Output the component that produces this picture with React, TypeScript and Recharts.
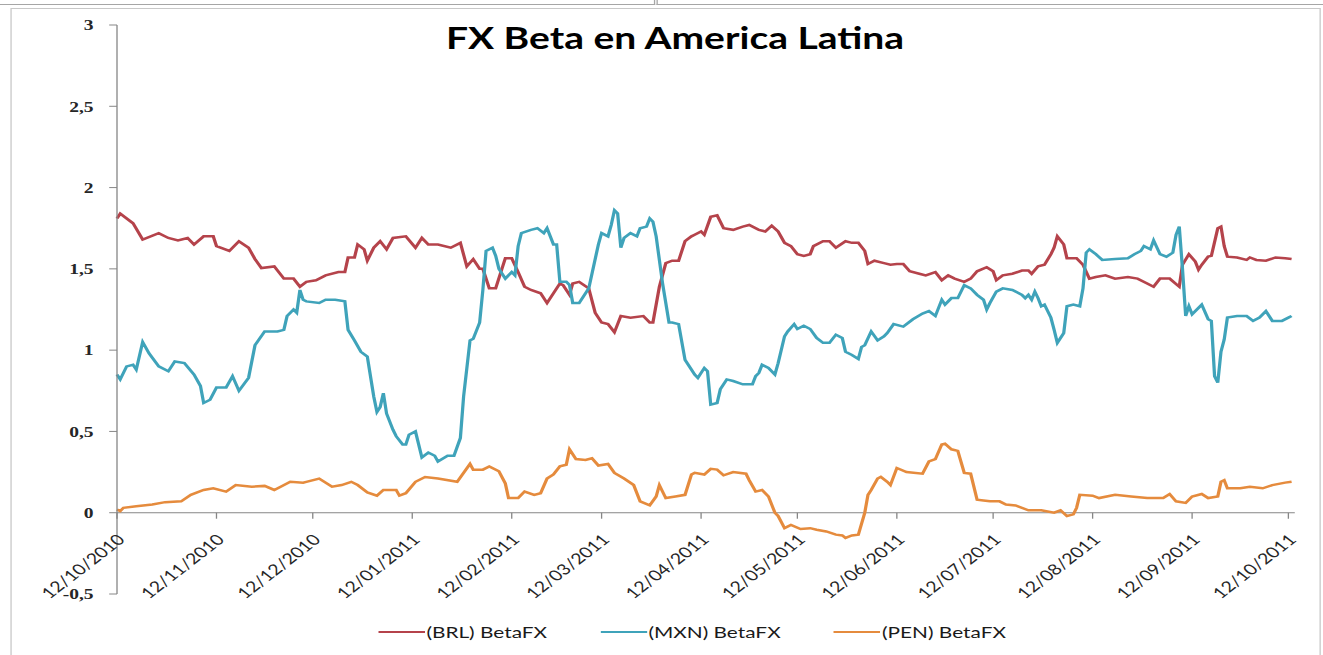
import React from 'react';
import { LineChart, Line, XAxis, YAxis, ReferenceLine, Legend } from 'recharts';

// the source image is an Excel chart stretched sideways, so it is laid out
// narrower and then scaled on x
const STRETCH = 1.3;
const W = 1018;
const H = 655;
const PLOT_TOP = 25;
const PLOT_BOTTOM = 594;

const brlDates = [
  '12/10/2010', '13/10/2010', '17/10/2010', '20/10/2010', '25/10/2010', '28/10/2010', '31/10/2010',
  '03/11/2010', '05/11/2010', '08/11/2010', '11/11/2010', '12/11/2010', '16/11/2010', '19/11/2010',
  '22/11/2010', '24/11/2010', '26/11/2010', '30/11/2010', '03/12/2010', '06/12/2010', '08/12/2010',
  '10/12/2010', '13/12/2010', '16/12/2010', '20/12/2010', '22/12/2010', '23/12/2010', '25/12/2010',
  '26/12/2010', '28/12/2010', '29/12/2010', '31/12/2010', '02/01/2011', '04/01/2011', '06/01/2011',
  '10/01/2011', '13/01/2011', '15/01/2011', '17/01/2011', '20/01/2011', '24/01/2011', '27/01/2011',
  '29/01/2011', '31/01/2011', '02/02/2011', '03/02/2011', '05/02/2011', '07/02/2011', '10/02/2011',
  '12/02/2011', '14/02/2011', '16/02/2011', '18/02/2011', '21/02/2011', '23/02/2011', '25/02/2011',
  '27/02/2011', '28/02/2011', '02/03/2011', '03/03/2011', '05/03/2011', '08/03/2011', '10/03/2011',
  '12/03/2011', '14/03/2011', '16/03/2011', '18/03/2011', '21/03/2011', '25/03/2011', '27/03/2011',
  '28/03/2011', '30/03/2011', '01/04/2011', '03/04/2011', '05/04/2011', '07/04/2011', '09/04/2011',
  '10/04/2011', '12/04/2011', '13/04/2011', '15/04/2011', '17/04/2011', '19/04/2011', '22/04/2011',
  '25/04/2011', '27/04/2011', '30/04/2011', '02/05/2011', '04/05/2011', '06/05/2011', '08/05/2011',
  '10/05/2011', '12/05/2011', '14/05/2011', '16/05/2011', '17/05/2011', '20/05/2011', '22/05/2011',
  '24/05/2011', '27/05/2011', '29/05/2011', '31/05/2011', '02/06/2011', '03/06/2011', '05/06/2011',
  '08/06/2011', '10/06/2011', '12/06/2011', '14/06/2011', '16/06/2011', '19/06/2011', '21/06/2011',
  '24/06/2011', '26/06/2011', '28/06/2011', '30/06/2011', '03/07/2011', '05/07/2011', '07/07/2011',
  '10/07/2011', '12/07/2011', '13/07/2011', '15/07/2011', '18/07/2011', '21/07/2011', '23/07/2011',
  '24/07/2011', '26/07/2011', '28/07/2011', '30/07/2011', '31/07/2011', '01/08/2011', '03/08/2011',
  '04/08/2011', '07/08/2011', '09/08/2011', '11/08/2011', '13/08/2011', '16/08/2011', '19/08/2011',
  '23/08/2011', '26/08/2011', '29/08/2011', '31/08/2011', '02/09/2011', '05/09/2011', '08/09/2011',
  '09/09/2011', '11/09/2011', '13/09/2011', '14/09/2011', '15/09/2011', '17/09/2011', '18/09/2011',
  '20/09/2011', '21/09/2011', '22/09/2011', '23/09/2011', '26/09/2011', '29/09/2011', '30/09/2011',
  '02/10/2011', '05/10/2011', '08/10/2011', '11/10/2011', '13/10/2011',
];
const brlValues = [
  1.81, 1.84, 1.78, 1.68, 1.72, 1.69, 1.675,
  1.69, 1.65, 1.7, 1.7, 1.64, 1.61, 1.67,
  1.63, 1.56, 1.505, 1.515, 1.44, 1.44, 1.39,
  1.42, 1.43, 1.46, 1.48, 1.48, 1.57, 1.57,
  1.65, 1.62, 1.55, 1.63, 1.67, 1.62, 1.69,
  1.7, 1.63, 1.69, 1.65, 1.65, 1.63, 1.66,
  1.515, 1.56, 1.5, 1.5, 1.38, 1.38, 1.565,
  1.565, 1.48, 1.39, 1.37, 1.35, 1.29, 1.35,
  1.41, 1.4, 1.34, 1.41, 1.42, 1.38, 1.23,
  1.17, 1.16, 1.11, 1.21, 1.2, 1.21, 1.17,
  1.17, 1.39, 1.535, 1.55, 1.55, 1.67, 1.7,
  1.71, 1.73, 1.71, 1.82, 1.83, 1.75, 1.74,
  1.76, 1.77, 1.74, 1.73, 1.765, 1.73, 1.66,
  1.64, 1.59, 1.58, 1.59, 1.64, 1.67, 1.67,
  1.63, 1.67, 1.66, 1.66, 1.61, 1.53, 1.55,
  1.535, 1.525, 1.53, 1.53, 1.485, 1.47, 1.46,
  1.48, 1.43, 1.46, 1.44, 1.42, 1.44, 1.485,
  1.51, 1.485, 1.43, 1.46, 1.47, 1.49, 1.49,
  1.47, 1.515, 1.525, 1.59, 1.63, 1.7, 1.65,
  1.565, 1.565, 1.525, 1.44, 1.45, 1.46, 1.44,
  1.45, 1.44, 1.41, 1.39, 1.44, 1.44, 1.39,
  1.525, 1.59, 1.545, 1.495, 1.525, 1.575, 1.58,
  1.75, 1.76, 1.64, 1.575, 1.57, 1.555, 1.57,
  1.555, 1.55, 1.57, 1.565, 1.56,
];

const mxnDates = [
  '12/10/2010', '13/10/2010', '15/10/2010', '17/10/2010', '18/10/2010', '20/10/2010', '22/10/2010',
  '25/10/2010', '28/10/2010', '30/10/2010', '02/11/2010', '05/11/2010', '07/11/2010', '08/11/2010',
  '10/11/2010', '12/11/2010', '15/11/2010', '17/11/2010', '19/11/2010', '22/11/2010', '24/11/2010',
  '27/11/2010', '01/12/2010', '03/12/2010', '04/12/2010', '06/12/2010', '07/12/2010', '08/12/2010',
  '09/12/2010', '10/12/2010', '14/12/2010', '16/12/2010', '19/12/2010', '22/12/2010', '23/12/2010',
  '25/12/2010', '27/12/2010', '29/12/2010', '31/12/2010', '01/01/2011', '02/01/2011', '03/01/2011',
  '04/01/2011', '06/01/2011', '07/01/2011', '09/01/2011', '10/01/2011', '11/01/2011', '13/01/2011',
  '15/01/2011', '17/01/2011', '19/01/2011', '20/01/2011', '23/01/2011', '25/01/2011', '27/01/2011',
  '28/01/2011', '30/01/2011', '31/01/2011', '02/02/2011', '03/02/2011', '04/02/2011', '06/02/2011',
  '07/02/2011', '08/02/2011', '10/02/2011', '12/02/2011', '13/02/2011', '14/02/2011', '15/02/2011',
  '18/02/2011', '20/02/2011', '22/02/2011', '23/02/2011', '25/02/2011', '26/02/2011', '27/02/2011',
  '01/03/2011', '02/03/2011', '03/03/2011', '05/03/2011', '08/03/2011', '11/03/2011', '12/03/2011',
  '14/03/2011', '15/03/2011', '16/03/2011', '17/03/2011', '18/03/2011', '19/03/2011', '21/03/2011',
  '23/03/2011', '24/03/2011', '26/03/2011', '27/03/2011', '28/03/2011', '29/03/2011', '31/03/2011',
  '02/04/2011', '03/04/2011', '05/04/2011', '07/04/2011', '09/04/2011', '10/04/2011', '11/04/2011',
  '13/04/2011', '14/04/2011', '15/04/2011', '17/04/2011', '18/04/2011', '20/04/2011', '22/04/2011',
  '25/04/2011', '28/04/2011', '29/04/2011', '30/04/2011', '01/05/2011', '03/05/2011', '05/05/2011',
  '06/05/2011', '08/05/2011', '09/05/2011', '11/05/2011', '12/05/2011', '14/05/2011', '16/05/2011',
  '18/05/2011', '20/05/2011', '22/05/2011', '24/05/2011', '26/05/2011', '27/05/2011', '29/05/2011',
  '31/05/2011', '01/06/2011', '02/06/2011', '04/06/2011', '06/06/2011', '08/06/2011', '09/06/2011',
  '11/06/2011', '14/06/2011', '17/06/2011', '20/06/2011', '22/06/2011', '24/06/2011', '26/06/2011',
  '27/06/2011', '29/06/2011', '01/07/2011', '03/07/2011', '05/07/2011', '07/07/2011', '09/07/2011',
  '10/07/2011', '11/07/2011', '13/07/2011', '15/07/2011', '18/07/2011', '21/07/2011', '22/07/2011',
  '23/07/2011', '24/07/2011', '25/07/2011', '26/07/2011', '27/07/2011', '28/07/2011', '30/07/2011',
  '31/07/2011', '01/08/2011', '03/08/2011', '04/08/2011', '06/08/2011', '08/08/2011', '09/08/2011',
  '10/08/2011', '11/08/2011', '13/08/2011', '15/08/2011', '19/08/2011', '23/08/2011', '25/08/2011',
  '27/08/2011', '28/08/2011', '30/08/2011', '31/08/2011', '02/09/2011', '04/09/2011', '06/09/2011',
  '07/09/2011', '08/09/2011', '09/09/2011', '10/09/2011', '11/09/2011', '12/09/2011', '15/09/2011',
  '17/09/2011', '18/09/2011', '19/09/2011', '20/09/2011', '21/09/2011', '22/09/2011', '23/09/2011',
  '26/09/2011', '29/09/2011', '01/10/2011', '03/10/2011', '05/10/2011', '07/10/2011', '10/10/2011',
  '12/10/2011', '13/10/2011',
];
const mxnValues = [
  0.85, 0.82, 0.9, 0.91, 0.88, 1.05, 0.98,
  0.9, 0.87, 0.93, 0.92, 0.85, 0.78, 0.675,
  0.695, 0.77, 0.77, 0.84, 0.75, 0.83, 1.03,
  1.115, 1.115, 1.125, 1.21, 1.25, 1.23, 1.37,
  1.31, 1.3, 1.29, 1.31, 1.31, 1.3, 1.125,
  1.06, 0.99, 0.96, 0.715, 0.62, 0.65, 0.735,
  0.61, 0.51, 0.47, 0.42, 0.42, 0.48, 0.5,
  0.34, 0.37, 0.35, 0.315, 0.35, 0.35, 0.46,
  0.715, 1.06, 1.07, 1.17, 1.37, 1.61, 1.63,
  1.58, 1.5, 1.44, 1.48, 1.46, 1.64, 1.72,
  1.74, 1.75, 1.72, 1.75, 1.65, 1.65, 1.42,
  1.42, 1.4, 1.29, 1.29, 1.38, 1.65, 1.72,
  1.7, 1.77, 1.86, 1.84, 1.63, 1.69, 1.72,
  1.7, 1.75, 1.76, 1.81, 1.79, 1.7, 1.41,
  1.17, 1.17, 1.16, 0.94, 0.88, 0.85, 0.83,
  0.89, 0.87, 0.665, 0.675, 0.76, 0.82, 0.81,
  0.79, 0.79, 0.84, 0.86, 0.91, 0.89, 0.85,
  0.92, 1.085, 1.115, 1.16, 1.13, 1.15, 1.13,
  1.075, 1.045, 1.045, 1.095, 1.075, 0.99, 0.97,
  0.945, 1.02, 1.03, 1.115, 1.06, 1.085, 1.105,
  1.16, 1.145, 1.19, 1.225, 1.24, 1.21, 1.31,
  1.28, 1.32, 1.32, 1.4, 1.38, 1.34, 1.31,
  1.25, 1.29, 1.36, 1.38, 1.37, 1.34, 1.32,
  1.34, 1.31, 1.36, 1.32, 1.27, 1.28, 1.2,
  1.125, 1.045, 1.105, 1.27, 1.28, 1.27, 1.38,
  1.6, 1.62, 1.59, 1.555, 1.56, 1.565, 1.59,
  1.61, 1.64, 1.62, 1.675, 1.59, 1.575, 1.6,
  1.71, 1.76, 1.5, 1.21, 1.27, 1.22, 1.28,
  1.19, 1.18, 0.84, 0.8, 0.99, 1.065, 1.2,
  1.21, 1.21, 1.18, 1.2, 1.24, 1.18, 1.18,
  1.2, 1.21,
];

const penDates = [
  '12/10/2010', '13/10/2010', '14/10/2010', '18/10/2010', '23/10/2010', '27/10/2010', '01/11/2010',
  '04/11/2010', '08/11/2010', '11/11/2010', '15/11/2010', '18/11/2010', '23/11/2010', '27/11/2010',
  '30/11/2010', '02/12/2010', '05/12/2010', '09/12/2010', '10/12/2010', '14/12/2010', '18/12/2010',
  '21/12/2010', '24/12/2010', '26/12/2010', '29/12/2010', '01/01/2011', '03/01/2011', '07/01/2011',
  '08/01/2011', '10/01/2011', '13/01/2011', '16/01/2011', '20/01/2011', '26/01/2011', '30/01/2011',
  '31/01/2011', '03/02/2011', '05/02/2011', '08/02/2011', '10/02/2011', '11/02/2011', '14/02/2011',
  '16/02/2011', '19/02/2011', '21/02/2011', '23/02/2011', '25/02/2011', '27/02/2011', '01/03/2011',
  '02/03/2011', '04/03/2011', '07/03/2011', '09/03/2011', '11/03/2011', '14/03/2011', '16/03/2011',
  '19/03/2011', '22/03/2011', '24/03/2011', '27/03/2011', '29/03/2011', '30/03/2011', '01/04/2011',
  '04/04/2011', '07/04/2011', '09/04/2011', '10/04/2011', '13/04/2011', '15/04/2011', '17/04/2011',
  '19/04/2011', '22/04/2011', '26/04/2011', '27/04/2011', '29/04/2011', '01/05/2011', '03/05/2011',
  '05/05/2011', '06/05/2011', '08/05/2011', '10/05/2011', '13/05/2011', '16/05/2011', '18/05/2011',
  '21/05/2011', '24/05/2011', '26/05/2011', '27/05/2011', '29/05/2011', '31/05/2011', '02/06/2011',
  '03/06/2011', '04/06/2011', '06/06/2011', '07/06/2011', '09/06/2011', '10/06/2011', '12/06/2011',
  '15/06/2011', '20/06/2011', '22/06/2011', '24/06/2011', '26/06/2011', '27/06/2011', '29/06/2011',
  '01/07/2011', '03/07/2011', '05/07/2011', '07/07/2011', '09/07/2011', '11/07/2011', '14/07/2011',
  '16/07/2011', '19/07/2011', '23/07/2011', '27/07/2011', '31/07/2011', '02/08/2011', '04/08/2011',
  '06/08/2011', '07/08/2011', '08/08/2011', '12/08/2011', '14/08/2011', '19/08/2011', '24/08/2011',
  '29/08/2011', '03/09/2011', '05/09/2011', '07/09/2011', '10/09/2011', '12/09/2011', '15/09/2011',
  '17/09/2011', '20/09/2011', '21/09/2011', '22/09/2011', '23/09/2011', '27/09/2011', '30/09/2011',
  '04/10/2011', '07/10/2011', '11/10/2011', '13/10/2011',
];
const penValues = [
  0.02, 0.01, 0.03, 0.04, 0.05, 0.065, 0.07,
  0.11, 0.14, 0.15, 0.13, 0.17, 0.16, 0.165,
  0.14, 0.16, 0.19, 0.185, 0.19, 0.21, 0.16,
  0.17, 0.19, 0.17, 0.125, 0.105, 0.14, 0.14,
  0.105, 0.12, 0.19, 0.22, 0.21, 0.19, 0.3,
  0.265, 0.265, 0.285, 0.255, 0.18, 0.09, 0.09,
  0.13, 0.11, 0.12, 0.21, 0.235, 0.285, 0.295,
  0.39, 0.33, 0.325, 0.335, 0.29, 0.3, 0.245,
  0.21, 0.17, 0.07, 0.045, 0.1, 0.17, 0.09,
  0.1, 0.11, 0.235, 0.245, 0.235, 0.27, 0.265,
  0.23, 0.25, 0.24, 0.2, 0.13, 0.14, 0.1,
  0.0, -0.02, -0.095, -0.075, -0.1, -0.095, -0.105,
  -0.115, -0.135, -0.14, -0.155, -0.14, -0.135, 0.0,
  0.11, 0.14, 0.21, 0.22, 0.19, 0.17, 0.275,
  0.25, 0.24, 0.315, 0.33, 0.42, 0.425, 0.39,
  0.38, 0.245, 0.24, 0.08, 0.075, 0.07, 0.07,
  0.05, 0.045, 0.015, 0.015, 0.0, 0.015, -0.02,
  -0.01, 0.03, 0.11, 0.105, 0.09, 0.11, 0.1,
  0.09, 0.09, 0.115, 0.07, 0.06, 0.1, 0.115,
  0.09, 0.1, 0.19, 0.2, 0.15, 0.15, 0.16,
  0.15, 0.17, 0.185, 0.19,
];

const monthTicks = [
  '12/10/2010', '12/11/2010', '12/12/2010', '12/01/2011', '12/02/2011', '12/03/2011', '12/04/2011',
  '12/05/2011', '12/06/2011', '12/07/2011', '12/08/2011', '12/09/2011', '12/10/2011',
];
const axisStart = '12/10/2010';
const axisEnd = '14/10/2011';
const yTicks = [-0.5, 0, 0.5, 1, 1.5, 2, 2.5, 3];
const Y_MIN = -0.5;
const Y_MAX = 3;

const toTime = (s: string) => {
  const [d, m, y] = s.split('/').map(Number);
  return Date.UTC(y, m - 1, d);
};

const fmtDate = (t: number) => {
  const dt = new Date(t);
  const dd = String(dt.getUTCDate()).padStart(2, '0');
  const mm = String(dt.getUTCMonth() + 1).padStart(2, '0');
  return `${dd}/${mm}/${dt.getUTCFullYear()}`;
};

const zip = (dates: string[], values: number[]) =>
  dates.map((d, i) => ({ t: toTime(d), v: values[i] }));

const series = [
  { name: '(BRL) BetaFX', color: '#B5434B', data: zip(brlDates, brlValues) },
  { name: '(MXN) BetaFX', color: '#3FA3BA', data: zip(mxnDates, mxnValues) },
  { name: '(PEN) BetaFX', color: '#E58B3D', data: zip(penDates, penValues) },
];

// the date axis crosses the value axis at 0, so ticks are drawn up there
const zeroOffset = ((PLOT_BOTTOM - PLOT_TOP) * (0 - Y_MIN)) / (Y_MAX - Y_MIN);

const DateTick = (props: any) => {
  const { x, y, payload } = props;
  const y0 = y - zeroOffset;
  const tx = x + 7;
  const ty = y0 + 28;
  return (
    <g>
      <line x1={x} x2={x} y1={y0} y2={y0 + 6} stroke="#868686" />
      <text
        x={tx}
        y={ty}
        textAnchor="end"
        transform={`rotate(-45 ${tx} ${ty})`}
        fill="#262626"
        fontSize={15}
        fontFamily="Lato, sans-serif"
      >
        {fmtDate(payload.value)}
      </text>
    </g>
  );
};

const LegendContent = (props: any) => (
  <div style={{ display: 'flex', alignItems: 'center', fontFamily: 'Lato, sans-serif', fontSize: 16, color: '#1a1a1a' }}>
    {(props.payload || []).map((p: any) => (
      <div key={p.value} style={{ display: 'flex', alignItems: 'center', marginRight: 41 }}>
        <svg width={36} height={10}>
          <line x1={0} x2={36} y1={5} y2={5} stroke={p.color} strokeWidth={2} />
        </svg>
        <span style={{ marginLeft: 1 }}>{p.value}</span>
      </div>
    ))}
  </div>
);

const App: React.FC = () => {
  return (
    <div
      style={{
        position: 'absolute',
        left: 0,
        top: 0,
        width: W,
        height: H,
        background: '#fff',
        overflow: 'hidden',
        transform: `scaleX(${STRETCH})`,
        transformOrigin: '0 0',
      }}
    >
      <div style={{ position: 'absolute', left: 0, top: 0, width: 503, height: 4, borderBottom: '1px solid #a6a6a6', borderRight: '1px solid #a6a6a6' }} />
      <div style={{ position: 'absolute', left: 505, top: 0, width: 520, height: 4, borderBottom: '1px solid #a6a6a6', borderLeft: '1px solid #a6a6a6' }} />
      <div style={{ position: 'absolute', left: 8, top: 8, width: 1006, height: 660, border: '1px solid #c8c8c8' }} />
      <div
        style={{
          position: 'absolute',
          left: 343,
          top: 22,
          fontFamily: 'Lato, sans-serif',
          fontWeight: 700,
          fontSize: 30,
          lineHeight: '30px',
          color: '#000',
          whiteSpace: 'nowrap',
        }}
      >
        FX Beta en America Latina
      </div>
      <LineChart width={W} height={H} margin={{ top: PLOT_TOP, right: 22, bottom: 0, left: 0 }}>
        <XAxis
          type="number"
          dataKey="t"
          domain={[toTime(axisStart), toTime(axisEnd)]}
          ticks={monthTicks.map(toTime)}
          interval={0}
          axisLine={false}
          tickLine={false}
          tickSize={0}
          tickMargin={0}
          height={H - PLOT_BOTTOM}
          tick={<DateTick />}
        />
        <YAxis
          width={90}
          domain={[Y_MIN, Y_MAX]}
          ticks={yTicks}
          interval={0}
          tickFormatter={(v: number) => String(v).replace('.', ',')}
          axisLine={{ stroke: '#868686' }}
          tickLine={{ stroke: '#868686' }}
          tickSize={6}
          tickMargin={12}
          tick={{ fill: '#262626', fontSize: 15, fontFamily: 'Liberation Serif, serif', fontWeight: 700 }}
        />
        <ReferenceLine y={0} stroke="#868686" />
        {series.map((s) => (
          <Line
            key={s.name}
            data={s.data}
            dataKey="v"
            name={s.name}
            type="linear"
            stroke={s.color}
            strokeWidth={2.5}
            dot={false}
            activeDot={false}
            isAnimationActive={false}
          />
        ))}
        <Legend
          verticalAlign="middle"
          align="center"
          layout="horizontal"
          content={<LegendContent />}
          wrapperStyle={{ top: 622, left: 291, width: 700 }}
        />
      </LineChart>
    </div>
  );
};

export default App;
